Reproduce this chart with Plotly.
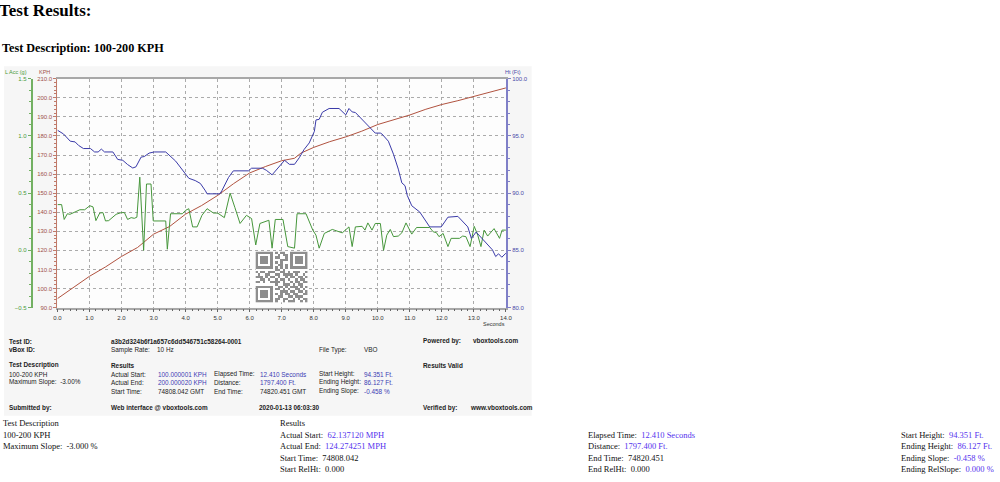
import plotly.graph_objects as go

# ---------------- data ----------------
speed_t = [0, 0.5, 1, 1.5, 2, 2.5, 2.7, 3, 3.5, 4, 4.5, 5, 5.5, 6, 6.5, 7, 7.4,
           7.6, 8, 8.5, 9, 9.5, 10, 10.5, 11, 11.5, 12, 12.5, 13, 13.5, 14]
speed_kph = [94.7, 100.5, 106.4, 111.3, 116.8, 121.5, 124.5, 128.5, 132.5, 139.0,
             143.5, 148.8, 155.0, 160.6, 164.0, 167.0, 168.3, 171.0, 174.0, 177.0,
             179.5, 182.5, 186.0, 188.5, 191.0, 194.0, 196.5, 198.5, 200.7, 203.0, 205.2]

ht_t = [0, 0.19, 0.4, 0.55, 0.66, 0.81, 1.03, 1.16, 1.27, 1.37, 1.47, 1.73, 1.88,
        2.04, 2.19, 2.35, 2.45, 2.56, 2.61, 2.71, 2.86, 3.02, 3.38, 3.69, 3.98, 4.1,
        4.3, 4.46, 4.62, 4.67, 5.07, 5.13, 5.34, 5.49, 5.96, 6.06, 6.4, 6.52, 6.7,
        6.88, 7.09, 7.24, 7.4, 7.55, 7.7, 7.86, 8.02, 8.07, 8.17, 8.27, 8.43, 8.48,
        8.79, 9.0, 9.1, 9.2, 9.3, 9.77, 9.92, 10.08, 10.13, 10.33, 10.49, 10.64,
        10.75, 10.85, 10.92, 11.06, 11.31, 11.62, 11.98, 12.19, 12.5, 12.81, 12.92,
        13.07, 13.58, 13.68, 13.77, 13.87, 14.0]
ht_ft = [95.5, 95.17, 94.54, 94.48, 94.17, 93.9, 93.9, 93.6, 93.6, 93.85, 93.6, 93.6,
         92.95, 92.87, 92.5, 92.2, 92.3, 92.8, 93.15, 93.2, 93.5, 93.6, 93.6, 92.8,
         91.7, 91.3, 91.1, 90.85, 90.2, 89.94, 89.94, 90.2, 91.37, 91.95, 91.95,
         92.18, 92.18, 92.0, 91.6, 92.18, 92.87, 92.52, 92.52, 93.1, 93.82, 94.39,
         95.4, 96.4, 96.45, 97.07, 97.27, 97.4, 97.4, 96.84, 97.4, 97.1, 97.05, 95.7,
         95.25, 95.25, 95.17, 94.54, 93.4, 92.1, 90.9, 90.65, 89.8, 88.9, 88.35,
         87.05, 87.05, 87.9, 87.97, 87.05, 86.05, 86.6, 85.04, 84.46, 84.7, 84.4, 84.75]

acc_t = [0, 0.13, 0.21, 0.31, 0.39, 0.55, 0.7, 0.85, 1.01, 1.11, 1.2, 1.32, 1.42, 1.5,
         1.6, 1.83, 1.99, 2.09, 2.19, 2.3, 2.4, 2.48, 2.57, 2.69, 2.78, 2.92, 2.99,
         3.38, 3.43, 3.53, 3.9, 4.0, 4.1, 4.22, 4.36, 4.51, 4.67, 4.87, 5.0, 5.21,
         5.29, 5.39, 5.54, 5.7, 5.9, 6.06, 6.19, 6.32, 6.6, 6.7, 6.8, 7.04, 7.19, 7.4,
         7.48, 7.76, 7.97, 8.07, 8.17, 8.33, 8.58, 8.89, 9.1, 9.2, 9.3, 9.51, 9.6,
         9.69, 9.82, 9.92, 10.08, 10.18, 10.28, 10.39, 10.49, 10.64, 10.75, 10.88,
         11.06, 11.21, 11.62, 11.73, 11.83, 11.91, 12.04, 12.19, 12.29, 12.55, 12.65,
         12.75, 12.88, 13.01, 13.12, 13.22, 13.32, 13.43, 13.63, 13.8, 13.88, 14.0]
acc_g = [0.40, 0.40, 0.27, 0.32, 0.315, 0.335, 0.355, 0.355, 0.39, 0.38, 0.26, 0.326,
         0.33, 0.257, 0.26, 0.315, 0.33, 0.33, 0.27, 0.286, 0.28, 0.29, 0.64, 0.0,
         0.58, 0.58, 0.257, 0.257, 0.01, 0.32, 0.32, 0.35, 0.364, 0.205, 0.205, 0.306,
         0.364, 0.326, 0.326, 0.286, 0.378, 0.5, 0.373, 0.235, 0.306, 0.278, 0.047,
         0.235, 0.263, 0.019, 0.27, 0.27, 0.033, 0.019, 0.32, 0.32, 0.177, 0.133,
         0.019, 0.148, 0.183, 0.153, 0.205, 0.033, 0.205, 0.21, 0.177, 0.24, 0.177,
         0.235, 0.235, 0.0, 0.133, 0.183, 0.12, 0.125, 0.153, 0.24, 0.142, 0.2, 0.2,
         0.162, 0.155, 0.12, 0.148, 0.033, 0.105, 0.105, 0.125, 0.12, 0.033, 0.21,
         0.133, 0.033, 0.177, 0.125, 0.19, 0.105, 0.177, 0.177]

qr_rows = [
    "111111101011001111111",
    "100000100101101000001",
    "101110101100101011101",
    "101110100011101011101",
    "101110101010001011101",
    "100000100110101000001",
    "111111101010101111111",
    "000000001101000000000",
    "101101110011010111001",
    "010011001101111010010",
    "111010110100101101101",
    "001101001011010010110",
    "110100111101001011011",
    "000000001001110101100",
    "111111100110101110101",
    "100000101101010011010",
    "101110100011101101101",
    "101110101010110110011",
    "101110100110011011100",
    "100000101101100101011",
    "111111101001011100101",
]

title_main = "Test Results:"
title_desc = "Test Description: 100-200 KPH"

# ---------------- geometry helpers ----------------
W, H = 1000, 482
def fx(x):
    return x / W
def fy(y):
    return 1 - y / H

X0, X1 = 54, 507
Y0, Y1 = 76.7, 308.4

RED = "#b0523f"
BLUE = "#3a3aa8"
GREEN = "#46963b"
VAL = "#3c3cb4"
VAL2 = "#5533ee"
SANS = "Liberation Sans"
SERIF = "Liberation Serif"
NB = "\u00a0"

fig = go.Figure()
fig.add_trace(go.Scatter(x=speed_t, y=speed_kph, mode="lines", yaxis="y",
                         line=dict(color=RED, width=1), hoverinfo="skip"))
fig.add_trace(go.Scatter(x=ht_t, y=ht_ft, mode="lines", yaxis="y3",
                         line=dict(color=BLUE, width=1), hoverinfo="skip"))
fig.add_trace(go.Scatter(x=acc_t, y=acc_g, mode="lines", yaxis="y2",
                         line=dict(color=GREEN, width=1), hoverinfo="skip"))
qr_z = [[int(c) for c in r] for r in qr_rows]
fig.add_trace(go.Heatmap(z=qr_z, xaxis="x2", yaxis="y4", zmin=0, zmax=1,
                         colorscale=[[0, "#ffffff"], [1, "#8e8e8e"]],
                         showscale=False, hoverinfo="skip"))

grid = dict(showgrid=True, gridcolor="#ababab", griddash="dot", gridwidth=1)

fig.update_layout(
    width=W, height=H, margin=dict(l=0, r=0, t=0, b=0),
    paper_bgcolor="white", plot_bgcolor="rgba(0,0,0,0)", showlegend=False,
    xaxis=dict(domain=[fx(X0), fx(X1)], range=[0, 14], dtick=1, tick0=0,
               tickformat=".1f", **grid, showline=True, linecolor="#a8a8a8",
               linewidth=1.5, mirror=True, ticks="outside", ticklen=3,
               tickcolor="#666", tickfont=dict(size=6, color="#333", family=SANS),
               minor=dict(dtick=0.2, ticks="outside", ticklen=2, tickcolor="#666"),
               zeroline=False, anchor="y"),
    yaxis=dict(domain=[fy(Y1), fy(Y0)], range=[90, 210], dtick=10,
               tickformat=".1f", **grid, showline=True, linecolor="#c07a6a",
               linewidth=1.2, ticks="outside", ticklen=3, tickcolor="#c07a6a",
               tickfont=dict(size=6, color="#a0504a", family=SANS),
               minor=dict(dtick=2, ticks="outside", ticklen=2, tickcolor="#c07a6a"),
               zeroline=False),
    yaxis2=dict(overlaying="y", anchor="free", position=fx(28), side="left",
                range=[-0.5, 1.5], dtick=0.5, tickformat=".1f", showgrid=False,
                showline=True, linecolor="#72b062", linewidth=2, ticks="outside",
                ticklen=3, tickcolor="#72b062",
                tickfont=dict(size=6, color="#4a9a3a", family=SANS),
                minor=dict(dtick=0.1, ticks="outside", ticklen=2, tickcolor="#72b062"),
                zeroline=False),
    yaxis3=dict(overlaying="y", anchor="x", side="right", range=[80, 100], dtick=5,
                tickformat=".1f", showgrid=False, showline=True, linecolor="#8080c8",
                linewidth=2, ticks="outside", ticklen=3, tickcolor="#8080c8",
                tickfont=dict(size=6, color="#4a4aa8", family=SANS),
                minor=dict(dtick=1, ticks="outside", ticklen=2, tickcolor="#8080c8"),
                zeroline=False),
    xaxis2=dict(domain=[fx(254), fx(307)], visible=False, anchor="y4",
                range=[-0.5, 20.5]),
    yaxis4=dict(domain=[fy(303.3), fy(251.7)], visible=False, anchor="x2",
                range=[20.5, -0.5]),
)

fig.add_shape(type="rect", xref="paper", yref="paper", x0=0, x1=fx(533),
              y0=fy(418), y1=fy(64), fillcolor="#f6f6f6", line_width=0, layer="below")
fig.add_shape(type="rect", xref="paper", yref="paper", x0=fx(X0), x1=fx(X1),
              y0=fy(Y1), y1=fy(Y0), fillcolor="#fdfdfd", line_width=0, layer="below")

ann = []
PAD = 4
def A(text, x, y, size=6.4, color="#222", family=SANS, anchor="left"):
    ann.append(dict(text=text, x=fx(x - PAD), y=fy(y), xref="paper", yref="paper",
                    xanchor=anchor, yanchor="middle", showarrow=False,
                    font=dict(size=size, color=color, family=family)))

A("<b>" + title_main + "</b>", -3, 8, size=17, color="#000", family=SERIF)
A("<b>" + title_desc + "</b>", 0, 45.5, size=12.2, color="#000", family=SERIF)

A("L Acc (g)", 3, 70, size=5.5, color="#4a9a3a")
A("KPH", 37, 70, size=5.5, color="#a0504a")
A("Ht (Ft)", 508, 70, size=5.5, color="#4a4aa8")
A("Seconds", 486, 325, size=5.5, color="#333")

# summary table inside chart image
A("<b>Test ID:</b>", 7, 343)
A("<b>vBox ID:</b>", 7, 351)
A("<b>Test Description</b>", 7, 367)
A("100-200 KPH", 7, 376)
A("Maximum Slope:" + NB * 2 + "-3.00%", 7, 384)
A("<b>Submitted by:</b>", 7, 410)
A("<b>a3b2d324b6f1a657c6dd546751c58264-0001</b>", 110, 343)
A("Sample Rate:", 110, 351); A("10 Hz", 157, 351)
A("<b>Results</b>", 110, 367)
A("Actual Start:", 110, 376); A("100.000001 KPH", 158, 376, color=VAL)
A("Actual End:", 110, 384); A("200.000020 KPH", 158, 384, color=VAL)
A("Start Time:", 110, 393); A("74808.042 GMT", 158, 393)
A("<b>Web interface @ vboxtools.com</b>", 110, 410)
A("Elapsed Time:", 214, 376); A("12.410 Seconds", 261, 376, color=VAL)
A("Distance:", 214, 384); A("1797.400 Ft.", 261, 384, color=VAL)
A("End Time:", 214, 393); A("74820.451 GMT", 261, 393)
A("<b>2020-01-13 06:03:30</b>", 260, 410)
A("File Type:", 320, 351); A("VBO", 366, 351)
A("Start Height:", 320, 376); A("94.351 Ft.", 366, 376, color=VAL)
A("Ending Height:", 320, 384); A("86.127 Ft.", 366, 384, color=VAL)
A("Ending Slope:", 320, 393); A("-0.458 %", 366, 393, color=VAL)
A("<b>Powered by:</b>", 425, 342); A("<b>vboxtools.com</b>", 476, 342)
A("<b>Results Valid</b>", 425, 367)
A("<b>Verified by:</b>", 425, 410); A("<b>www.vboxtools.com</b>", 473, 410)

# bottom text
def V(s):
    return "<span style='color:" + VAL2 + "'>" + s + "</span>"
S = 8.5
C1, C2, C3, C4 = 1, 281, 592, 908
A("Test Description", C1, 425.7, size=S, color="#111", family=SERIF)
A("100-200 KPH", C1, 437, size=S, color="#111", family=SERIF)
A("Maximum Slope:" + NB * 2 + "-3.000 %", C1, 448.7, size=S, color="#111", family=SERIF)
A("Results", C2, 425.7, size=S, color="#111", family=SERIF)
A("Actual Start:" + NB * 2 + V("62.137120 MPH"), C2, 437, size=S, color="#111", family=SERIF)
A("Actual End:" + NB * 2 + V("124.274251 MPH"), C2, 448.7, size=S, color="#111", family=SERIF)
A("Start Time:" + NB * 2 + "74808.042", C2, 460.3, size=S, color="#111", family=SERIF)
A("Start RelHt:" + NB * 2 + "0.000", C2, 471.7, size=S, color="#111", family=SERIF)
A("Elapsed Time:" + NB * 2 + V("12.410 Seconds"), C3, 437, size=S, color="#111", family=SERIF)
A("Distance:" + NB * 2 + V("1797.400 Ft."), C3, 448.7, size=S, color="#111", family=SERIF)
A("End Time:" + NB * 2 + "74820.451", C3, 460.3, size=S, color="#111", family=SERIF)
A("End RelHt:" + NB * 2 + "0.000", C3, 471.7, size=S, color="#111", family=SERIF)
A("Start Height:" + NB * 2 + V("94.351 Ft."), C4, 437, size=S, color="#111", family=SERIF)
A("Ending Height:" + NB * 2 + V("86.127 Ft."), C4, 448.7, size=S, color="#111", family=SERIF)
A("Ending Slope:" + NB * 2 + V("-0.458 %"), C4, 460.3, size=S, color="#111", family=SERIF)
A("Ending RelSlope:" + NB * 2 + V("0.000 %"), C4, 471.7, size=S, color="#111", family=SERIF)

fig.update_layout(annotations=ann)
fig.write_html("out.html")
